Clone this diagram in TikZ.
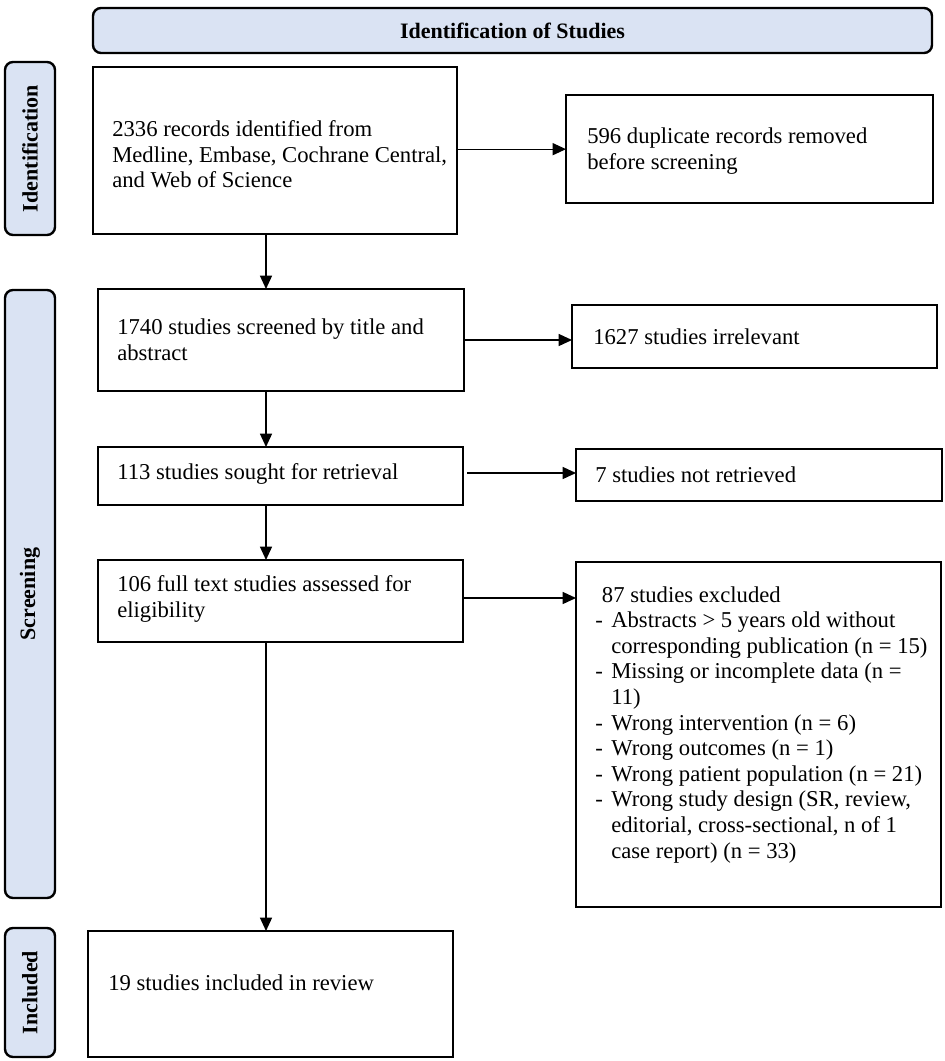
\documentclass[tikz,border=0pt]{standalone}
\usepackage{fontspec}
\setmainfont{Liberation Serif}
\usetikzlibrary{arrows.meta,fit,calc}
\definecolor{lblue}{HTML}{DAE3F3}
\begin{document}
\begin{tikzpicture}[x=0.75pt,y=-0.75pt,
  box/.style={draw=black, line width=1.6pt, inner sep=0pt, outer sep=0pt},
  txt/.style={inner sep=0pt, align=left, anchor=west, font=\fontsize{17}{19.2}\selectfont},
  band/.style={draw=black, line width=1.8pt, fill=lblue, rounded corners=6pt, inner sep=0pt, outer sep=0pt},
  bandtxt/.style={inner sep=0pt, font=\bfseries\fontsize{16.5}{19}\selectfont},
  arr/.style={line width=1pt, -{Triangle[length=10pt,width=9pt]}},
  ]
\useasboundingbox (0,0) rectangle (945,1061);
% top banner and side labels
\node[band, fit={(93,8)(932,53)}] (top) {};
\node[bandtxt] (toptxt) at (top.center) {Identification of Studies};
\node[band, fit={(5,62)(55,235)}] (sid) {};
\node[bandtxt, rotate=90] (sidtxt) at (sid.center) {Identification};
\node[band, fit={(5,290)(55,898)}] (sscr) {};
\node[bandtxt, rotate=90] (sscrtxt) at (sscr.center) {Screening};
\node[band, fit={(5,928)(55,1057)}] (sinc) {};
\node[bandtxt, rotate=90] (sinctxt) at (sinc.center) {Included};
% main boxes
\node[box, fit={(93,67)(457,234)}] (b1) {};
\node[txt] (t1) at ($(b1.west)+(19,4)$) {2336 records identified from\\Medline, Embase, Cochrane Central,\\and Web of Science};
\node[box, fit={(566,95)(933,203)}] (dup) {};
\node[txt] (tdup) at ($(dup.west)+(21,2)$) {596 duplicate records removed\\before screening};
\node[box, fit={(98,289)(464,391)}] (b2) {};
\node[txt] (t2) at ($(b2.west)+(19,0)$) {1740 studies screened by title and\\abstract};
\node[box, fit={(572,305)(937,368)}] (irr) {};
\node[txt] (tirr) at ($(irr.west)+(21,0)$) {1627 studies irrelevant};
\node[box, fit={(98,447)(463,505)}] (b3) {};
\node[txt] (t3) at ($(b3.west)+(19,-2)$) {113 studies sought for retrieval};
\node[box, fit={(576,449)(942,501)}] (nr) {};
\node[txt] (tnr) at ($(nr.west)+(19,0)$) {7 studies not retrieved};
\node[box, fit={(98,560)(463,642)}] (b4) {};
\node[txt] (t4) at ($(b4.west)+(19,-2)$) {106 full text studies assessed for\\eligibility};
\node[box, fit={(576,562)(941,907)}] (ex) {};
\node[txt, anchor=north west] (tex) at (595,586) {\hspace*{5pt}87 studies excluded\\
\makebox[12pt][l]{-}Abstracts > 5 years old without\\
\hspace*{12pt}corresponding publication (n = 15)\\
\makebox[12pt][l]{-}Missing or incomplete data (n =\\
\hspace*{12pt}11)\\
\makebox[12pt][l]{-}Wrong intervention (n = 6)\\
\makebox[12pt][l]{-}Wrong outcomes (n = 1)\\
\makebox[12pt][l]{-}Wrong patient population (n = 21)\\
\makebox[12pt][l]{-}Wrong study design (SR, review,\\
\hspace*{12pt}editorial, cross-sectional, n of 1\\
\hspace*{12pt}case report) (n = 33)};
\node[box, fit={(88,931)(453,1057)}] (b5) {};
\node[txt] (t5) at ($(b5.west)+(20,-11)$) {19 studies included in review};
% connectors
\coordinate (vx) at (266,0);
\draw[arr] ([yshift=1pt]b1.east) -- ([yshift=1pt]b1.east -| dup.west);
\draw[arr] (b2.east) -- (b2.east -| irr.west);
\draw[arr] ([xshift=3pt,yshift=2.25pt]b3.east) -- ([yshift=2.25pt]b3.east -| nr.west);
\draw[arr] ([yshift=2.25pt]b4.east) -- ([yshift=2.25pt]b4.east -| ex.west);
\draw[arr] (b1.south -| vx) -- (b2.north -| vx);
\draw[arr] (b2.south -| vx) -- (b3.north -| vx);
\draw[arr] (b3.south -| vx) -- (b4.north -| vx);
\draw[arr] (b4.south -| vx) -- (b5.north -| vx);
\end{tikzpicture}
\end{document}
